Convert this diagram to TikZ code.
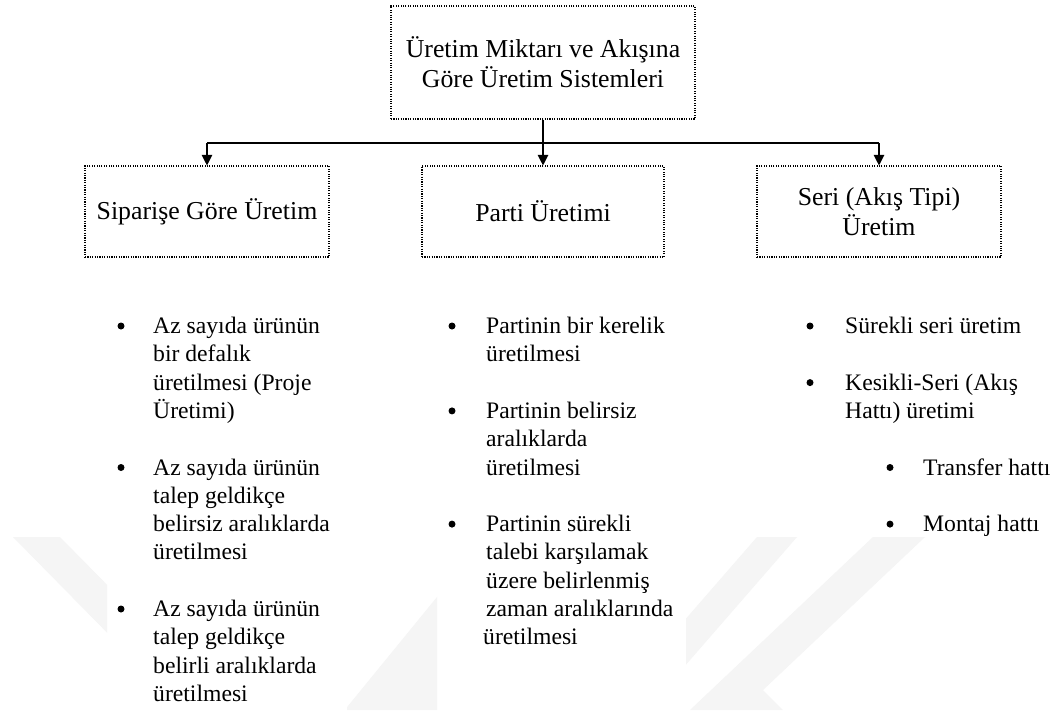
\documentclass[tikz,border=0pt]{standalone}
\usepackage{fontspec}
\setmainfont{Liberation Serif}
\usetikzlibrary{arrows.meta}
\newcommand\dgboxfont{\fontsize{25.8}{30}\selectfont}
\newcommand\dgitemfont{\fontsize{23.65}{28.3}\selectfont}
\begin{document}
\begin{tikzpicture}[x=1pt,y=-1pt,
  dotbox/.style={draw=black, line width=1.1pt, dash pattern=on 1.1pt off 1.3pt,
    inner sep=0pt, align=center, font=\dgboxfont},
  link/.style={line width=1.1pt, -{Triangle[length=10.5pt,width=10.5pt]}},
  busline/.style={line width=1.1pt},
  itemtext/.style={anchor=base west, inner sep=0pt, font=\dgitemfont},
  bulletdot/.style={circle, fill=black, inner sep=0pt, minimum size=7pt, yshift=7.5pt},
  wm/.style={fill=black!4}
]
\useasboundingbox (0,0) rectangle (1054,710);
\fill[white] (0,0) rectangle (1054,710);

% faint background logo, visible only between the text columns
\begin{scope}
  \clip (0,537) rectangle (107,710) (347,537) rectangle (437,710) (686,537) rectangle (1054,710);
  \fill[wm] (13,537) -- (60,537) -- (240,720) -- (193,720) -- cycle;
  \fill[wm] (330,728) -- (486,537) -- (600,537) -- (444,728) -- cycle;
  \fill[wm] (757,537) -- (797,537) -- (650,706) -- (650,660) -- cycle;
  \fill[wm] (873,537) -- (925,537) -- (763,690) -- (783,710) -- (690,710) -- cycle;
\end{scope}

% boxes
\node[dotbox, minimum width=304pt, minimum height=113pt] (title) at (543,62.5)
  {Üretim Miktarı ve Akışına\\Göre Üretim Sistemleri};
\node[dotbox, minimum width=244pt, minimum height=91pt] (siparis) at (207,211.5)
  {Siparişe Göre Üretim};
\node[dotbox, minimum width=242pt, minimum height=91pt] (parti) at (543,211.5)
  {Parti Üretimi};
\node[dotbox, minimum width=244pt, minimum height=91pt] (seri) at (879,211.5)
  {Seri (Akış Tipi)\\Üretim};

% connectors
\coordinate (bus) at (543,143);
\draw[busline] (bus -| siparis.north) -- (bus -| seri.north);
\draw[link] (title.south) -- (parti.north);
\draw[link] (bus -| siparis.north) -- (siparis.north);
\draw[link] (bus -| seri.north) -- (seri.north);

% first column
\node[bulletdot] (b11) at (121,333.5) {};
\node[itemtext] (i11) at (153,333.5) {\parbox[t]{230pt}{\raggedright
  Az sayıda ürünün\\bir defalık\\üretilmesi (Proje\\Üretimi)}};
\node[bulletdot] (b12) at (121,475.0) {};
\node[itemtext] (i12) at (153,475.0) {\parbox[t]{230pt}{\raggedright
  Az sayıda ürünün\\talep geldikçe\\belirsiz aralıklarda\\üretilmesi}};
\node[bulletdot] (b13) at (121,616.5) {};
\node[itemtext] (i13) at (153,616.5) {\parbox[t]{230pt}{\raggedright
  Az sayıda ürünün\\talep geldikçe\\belirli aralıklarda\\üretilmesi}};

% second column
\node[bulletdot] (b21) at (452,333.5) {};
\node[itemtext] (i21) at (486,333.5) {\parbox[t]{230pt}{\raggedright
  Partinin bir kerelik\\üretilmesi}};
\node[bulletdot] (b22) at (452,418.4) {};
\node[itemtext] (i22) at (486,418.4) {\parbox[t]{230pt}{\raggedright
  Partinin belirsiz\\aralıklarda\\üretilmesi}};
\node[bulletdot] (b23) at (452,531.6) {};
\node[itemtext] (i23) at (486,531.6) {\parbox[t]{230pt}{\raggedright
  Partinin sürekli\\talebi karşılamak\\üzere belirlenmiş\\zaman aralıklarında\\\hspace*{-3pt}üretilmesi}};

% third column
\node[bulletdot] (b31) at (810,333.5) {};
\node[itemtext] (i31) at (845,333.5) {\parbox[t]{200pt}{\raggedright
  Sürekli seri üretim}};
\node[bulletdot] (b32) at (810,390.1) {};
\node[itemtext] (i32) at (845,390.1) {\parbox[t]{200pt}{\raggedright
  Kesikli-Seri (Akış\\Hattı) üretimi}};
\node[bulletdot] (b33) at (890,475.0) {};
\node[itemtext] (i33) at (923,475.0) {Transfer hattı};
\node[bulletdot] (b34) at (890,531.6) {};
\node[itemtext] (i34) at (923,531.6) {Montaj hattı};
\end{tikzpicture}
\end{document}
